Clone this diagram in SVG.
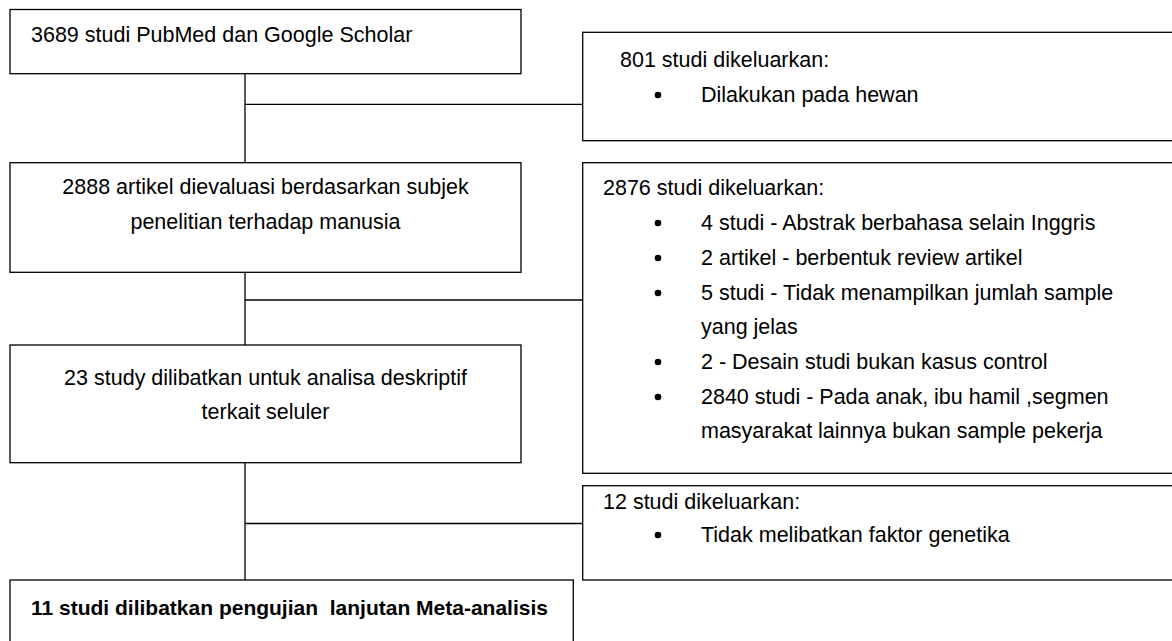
<svg xmlns="http://www.w3.org/2000/svg" width="1172" height="641" viewBox="0 0 1172 641">
<style>
.box{fill:#fff;stroke:#000;stroke-width:1.3}
.ln{stroke:#000;stroke-width:1.3;fill:none}
text{font-family:"Liberation Sans",Arial,sans-serif;font-size:21.5px;fill:#000}
.c{text-anchor:middle}
.b{font-weight:bold;white-space:pre;font-size:21px}
.dot{fill:#000}
</style>
<rect width="1172" height="641" fill="#fff"/>
<g id="connectors">
<line class="ln" x1="245" y1="73.7" x2="245" y2="580"/>
<line class="ln" x1="245" y1="104.3" x2="582.7" y2="104.3"/>
<line class="ln" x1="245" y1="300" x2="582.7" y2="300"/>
<line class="ln" x1="245" y1="523.5" x2="582.7" y2="523.5"/>
</g>
<g id="n1">
<rect class="box" x="10" y="9.5" width="511" height="64.2"/>
<text x="31" y="42">3689 studi PubMed dan Google Scholar</text>
</g>
<g id="n2">
<rect class="box" x="10" y="162.7" width="511" height="109.6"/>
<text class="c" x="265.5" y="194">2888 artikel dievaluasi berdasarkan subjek</text>
<text class="c" x="265.5" y="229">penelitian terhadap manusia</text>
</g>
<g id="n3">
<rect class="box" x="10" y="345" width="511" height="117.7"/>
<text class="c" x="265.5" y="385">23 study dilibatkan untuk analisa deskriptif</text>
<text class="c" x="265.5" y="419">terkait seluler</text>
</g>
<g id="n4">
<rect class="box" x="10" y="580" width="563.3" height="70"/>
<text class="b" x="31" y="615">11 studi dilibatkan pengujian  lanjutan Meta-analisis</text>
</g>
<g id="e1">
<rect class="box" x="582.7" y="32.3" width="600" height="108.4"/>
<text x="620" y="67">801 studi dikeluarkan:</text>
<circle class="dot" cx="658" cy="95" r="3.3"/>
<text x="701" y="102">Dilakukan pada hewan</text>
</g>
<g id="e2">
<rect class="box" x="582.7" y="162.7" width="600" height="310.6"/>
<text x="603" y="195">2876 studi dikeluarkan:</text>
<circle class="dot" cx="658" cy="223" r="3.3"/>
<text x="701" y="230">4 studi - Abstrak berbahasa selain Inggris</text>
<circle class="dot" cx="658" cy="258" r="3.3"/>
<text x="701" y="265">2 artikel - berbentuk review artikel</text>
<circle class="dot" cx="658" cy="293" r="3.3"/>
<text x="701" y="300">5 studi - Tidak menampilkan jumlah sample</text>
<text x="701" y="334">yang jelas</text>
<circle class="dot" cx="658" cy="362" r="3.3"/>
<text x="701" y="369">2 - Desain studi bukan kasus control</text>
<circle class="dot" cx="658" cy="397" r="3.3"/>
<text x="701" y="404">2840 studi - Pada anak, ibu hamil ,segmen</text>
<text x="701" y="438">masyarakat lainnya bukan sample pekerja</text>
</g>
<g id="e3">
<rect class="box" x="582.7" y="485.7" width="600" height="94.3"/>
<text x="603" y="509">12 studi dikeluarkan:</text>
<circle class="dot" cx="658" cy="535" r="3.3"/>
<text x="701" y="542">Tidak melibatkan faktor genetika</text>
</g>
</svg>
